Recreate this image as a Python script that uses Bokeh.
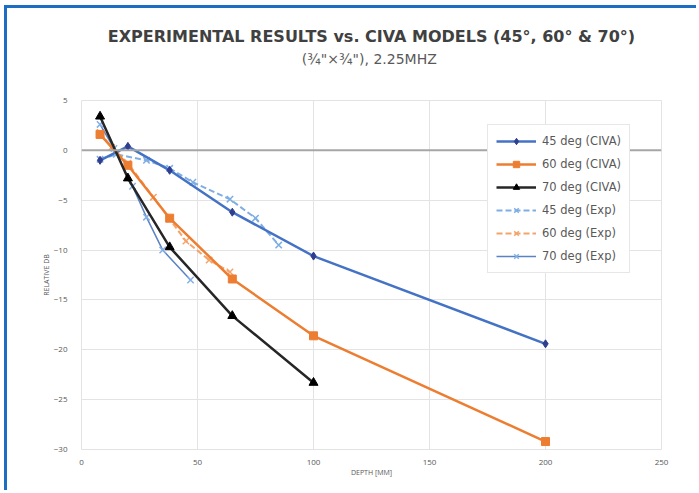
from bokeh.plotting import figure
from bokeh.models import Legend, LegendItem, Title, Span, FixedTicker, Range1d
from bokeh.embed import file_html
from bokeh.resources import INLINE

# ---- data ----
x45_civa = [8, 20, 38, 65, 100, 200]
y45_civa = [-1.0, 0.4, -2.0, -6.2, -10.6, -19.4]
x60_civa = [8, 20, 38, 65, 100, 200]
y60_civa = [1.6, -1.5, -6.8, -12.9, -18.6, -29.2]
x70_civa = [8, 20, 38, 65, 100]
y70_civa = [3.4, -2.8, -9.7, -16.6, -23.3]
x45_exp = [8, 15, 28, 38, 48, 64, 75, 85]
y45_exp = [-0.9, -0.4, -1.0, -1.8, -3.2, -4.9, -6.8, -9.5]
x60_exp = [8, 13, 20, 31, 38, 45, 55, 64]
y60_exp = [1.8, 0.3, -1.3, -4.7, -6.9, -9.1, -11.0, -12.2]
x70_exp = [8, 14, 22, 28, 35, 47]
y70_exp = [2.6, 0.2, -3.6, -6.7, -10.0, -13.0]
x_ticks = [0, 50, 100, 150, 200, 250]
y_ticks = [5, 0, -5, -10, -15, -20, -25, -30]

FONT = "Open Sans"
GRAY = "#595959"

p = figure(width=692, height=485, output_backend="svg", toolbar_location=None,
           x_range=Range1d(0, 250), y_range=Range1d(-30, 5),
           min_border_left=74, min_border_right=38, min_border_top=92, min_border_bottom=44,
           styles={"border-top": "3px solid #1b6ec2", "border-left": "3px solid #1b6ec2",
                   "margin-left": "4px", "margin-top": "5px"})
p.background_fill_color = "white"
p.border_fill_color = "white"
p.outline_line_color = "#e3e3e3"

p.xaxis.ticker = FixedTicker(ticks=x_ticks)
p.yaxis.ticker = FixedTicker(ticks=y_ticks)
for ax in (p.xaxis, p.yaxis):
    ax.axis_line_color = None
    ax.major_tick_line_color = None
    ax.minor_tick_line_color = None
    ax.major_label_text_font = FONT
    ax.major_label_text_font_size = "8px"
    ax.major_label_text_color = GRAY
    ax.axis_label_text_font = FONT
    ax.axis_label_text_font_size = "7px"
    ax.axis_label_text_font_style = "normal"
    ax.axis_label_text_color = GRAY
p.xaxis.axis_label = "DEPTH [MM]"
p.yaxis.axis_label = "RELATIVE DB"
p.xaxis.major_label_standoff = 4
p.yaxis.major_label_standoff = 8
p.xaxis.axis_label_standoff = 0
p.yaxis.axis_label_standoff = 0

p.xgrid.grid_line_color = "#e3e3e3"
p.ygrid.grid_line_color = "#e3e3e3"
p.xgrid.ticker = FixedTicker(ticks=x_ticks)
p.ygrid.ticker = FixedTicker(ticks=y_ticks)

p.add_layout(Span(location=0, dimension="width", line_color="#a6a6a6", line_width=2))

# ---- series ----
c45 = "#4472c4"
c60 = "#ed7d31"
c70 = "#262626"
e45 = "#7eaee3"
e60 = "#f4a46a"
e70 = "#5a82c4"

r45e_l = p.line(x45_exp, y45_exp, line_color=e45, line_width=2, line_dash="6 3")
r45e_m = p.scatter(x45_exp, y45_exp, marker="x", size=9, line_color=e45, line_width=1.5)
r60e_l = p.line(x60_exp, y60_exp, line_color=e60, line_width=2, line_dash="6 3")
r60e_m = p.scatter(x60_exp, y60_exp, marker="x", size=9, line_color=e60, line_width=1.5)
r70e_l = p.line(x70_exp, y70_exp, line_color=e70, line_width=1.5)
r70e_m = p.scatter(x70_exp, y70_exp, marker="x", size=9, line_color="#84b0e6", line_width=1.5)

r45_l = p.line(x45_civa, y45_civa, line_color=c45, line_width=2.5)
r45_m = p.scatter(x45_civa, y45_civa, marker="diamond", size=8, fill_color="#2f3e8e", line_color="#2f3e8e")
r60_l = p.line(x60_civa, y60_civa, line_color=c60, line_width=2.5)
r60_m = p.scatter(x60_civa, y60_civa, marker="square", size=8, fill_color=c60, line_color=c60)
r70_l = p.line(x70_civa, y70_civa, line_color=c70, line_width=2.5)
r70_m = p.scatter(x70_civa, y70_civa, marker="triangle", size=9, fill_color="black", line_color="black")

legend = Legend(items=[
    LegendItem(label="45 deg (CIVA)", renderers=[r45_l, r45_m]),
    LegendItem(label="60 deg (CIVA)", renderers=[r60_l, r60_m]),
    LegendItem(label="70 deg (CIVA)", renderers=[r70_l, r70_m]),
    LegendItem(label="45 deg (Exp)", renderers=[r45e_l, r45e_m]),
    LegendItem(label="60 deg (Exp)", renderers=[r60e_l, r60e_m]),
    LegendItem(label="70 deg (Exp)", renderers=[r70e_l, r70e_m]),
], location=(406, 176))
legend.padding = 8
legend.spacing = 7
legend.glyph_width = 40
legend.glyph_height = 16
legend.label_height = 16
legend.label_standoff = 6
legend.label_text_font = "DejaVu Sans"
legend.label_text_font_size = "11.5px"
legend.label_text_color = GRAY
legend.border_line_color = "#d0d0d0"
legend.background_fill_alpha = 1
p.add_layout(legend)

# ---- titles ----
p.add_layout(Title(text="(¾\"×¾\"),  2.25MHZ", align="center", text_font="DejaVu Sans",
                   text_font_size="14px", text_font_style="normal", text_color=GRAY,
                   standoff=68), "above")
p.add_layout(Title(text="EXPERIMENTAL RESULTS vs. CIVA MODELS (45°, 60° & 70°)", align="center",
                   text_font="DejaVu Sans", text_font_size="16px", text_font_style="bold",
                   text_color="#404040", standoff=-63), "above")

open("out.html", "w").write(file_html(p, INLINE))
